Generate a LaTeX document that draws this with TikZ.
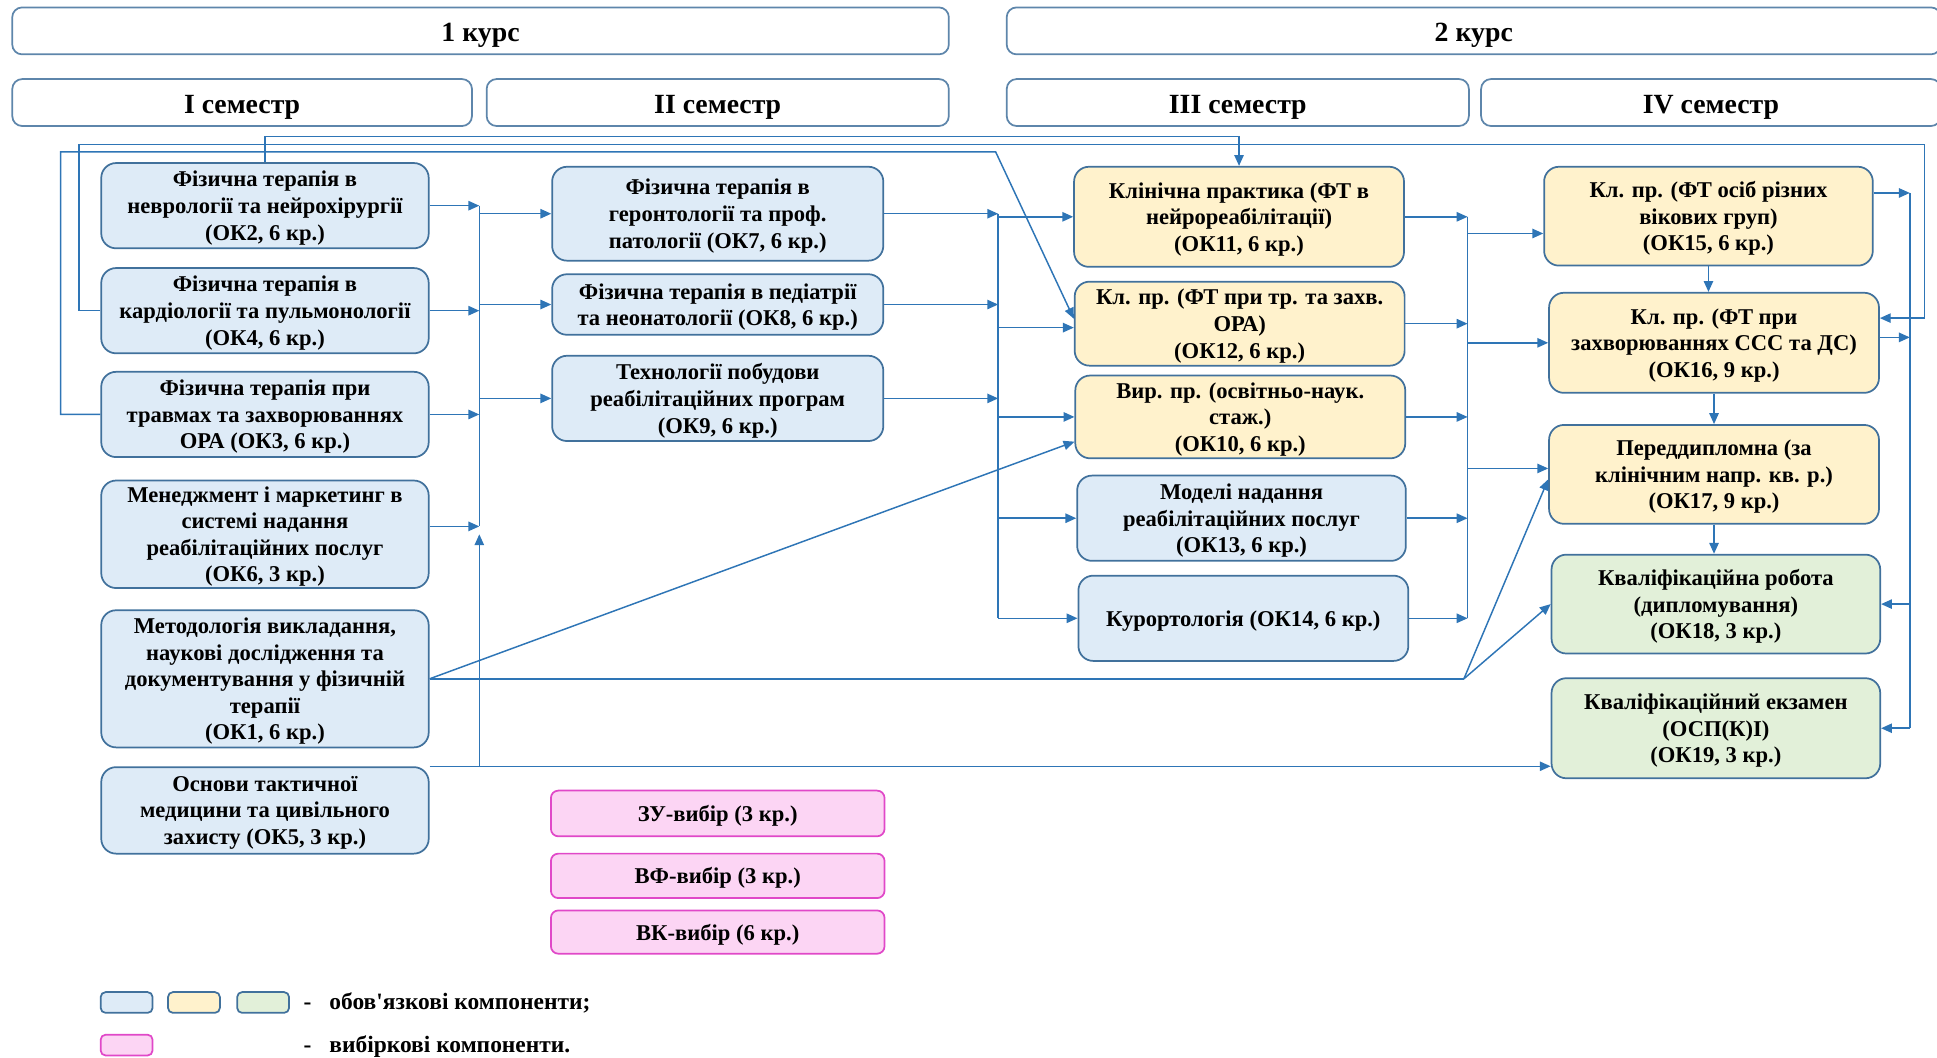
\documentclass[tikz,border=0pt]{standalone}
\usepackage{xcolor}
\usepackage{fontspec}
\setmainfont{Liberation Serif}
\usepackage{tikz}
\usetikzlibrary{shapes, arrows.meta, positioning}
\usetikzlibrary{calc}

\definecolor{lineblue}{HTML}{2E75B6}
\definecolor{boxedge}{HTML}{41719C}
\definecolor{fillblue}{HTML}{DEEBF7}
\definecolor{fillyellow}{HTML}{FFF2CC}
\definecolor{fillgreen}{HTML}{E2F0D9}
\definecolor{fillpink}{HTML}{FCD5F4}
\definecolor{edgepink}{HTML}{E048C8}

\begin{document}
\begin{tikzpicture}
  [
    x=0.025cm, y=-0.025cm,
    >={Triangle[length=2.2mm, width=1.9mm]},
    Box/.style={rectangle, rounded corners=3mm, draw=boxedge, line width=1pt, align=center, inner sep=1pt, text depth=0pt, font=\bfseries\fontsize{13}{15.3}\selectfont},
    Blue/.style={Box, fill=fillblue},
    Yellow/.style={Box, fill=fillyellow},
    Green/.style={Box, fill=fillgreen},
    Pink/.style={Box, fill=fillpink, draw=edgepink, rounded corners=1.5mm, minimum width=6.75cm},
    Head/.style={rectangle, rounded corners=2mm, draw=boxedge!85, fill=white, line width=1pt, minimum height=0.95cm, text height=14pt, text depth=1.4pt, font=\bfseries\fontsize{16}{18}\selectfont},
    Key/.style={rectangle, rounded corners=1mm, draw=boxedge, line width=1pt, minimum width=1.05cm, minimum height=0.42cm},
    Legend/.style={font=\bfseries\fontsize{13.5}{16}\selectfont, inner sep=1pt},
    Line/.style={draw=lineblue, line width=0.85pt}
  ]
  \useasboundingbox (0,0) rectangle (1568,856);
  \clip (0,0) rectangle (1568,856);

  % Headers
  \node[Head, minimum width=18.95cm] (kurs1) at (389, 25) {1 курс};
  \node[Head, minimum width=18.9cm] (kurs2) at (1193, 25) {2 курс};
  \node[Head, minimum width=9.3cm] (sem1) at (196, 83) {I семестр};
  \node[Head, minimum width=9.35cm] (sem2) at (581, 83) {II семестр};
  \node[Head, minimum width=9.35cm] (sem3) at (1002, 83) {III семестр};
  \node[Head, minimum width=9.3cm] (sem4) at (1385, 83) {IV семестр};

  % Nodes
  \node[Blue, minimum width=6.625cm, minimum height=1.725cm] (ok2) at (214.5, 166.5) {Фізична терапія в\\неврології та нейрохірургії\\(ОК2, 6 кр.)};
  \node[Blue, minimum width=6.625cm, minimum height=1.725cm] (ok4) at (214.5, 251.5) {Фізична терапія в\\кардіології та пульмонології\\(ОК4, 6 кр.)};
  \node[Blue, minimum width=6.625cm, minimum height=1.725cm] (ok3) at (214.5, 335.5) {Фізична терапія при\\травмах та захворюваннях\\ОРА (ОК3, 6 кр.)};
  \node[Blue, minimum width=6.625cm, minimum height=2.175cm] (ok6) at (214.5, 432.5) {Менеджмент і маркетинг в\\системі надання\\реабілітаційних послуг\\(ОК6, 3 кр.)};
  \node[Blue, minimum width=6.625cm, minimum height=2.775cm] (ok1) at (214.5, 549.5) {Методологія викладання,\\наукові дослідження та\\документування у фізичній\\терапії\\(ОК1, 6 кр.)};
  \node[Blue, minimum width=6.625cm, minimum height=1.75cm] (ok5) at (214.5, 656) {Основи тактичної\\медицини та цивільного\\захисту (ОК5, 3 кр.)};

  \node[Blue, minimum width=6.7cm, minimum height=1.9cm] (ok7) at (581, 173) {Фізична терапія в\\геронтології та проф.\\патології (ОК7, 6 кр.)};
  \node[Blue, minimum width=6.7cm, minimum height=1.225cm] (ok8) at (581, 246.5) {Фізична терапія в педіатрії\\та неонатології (ОК8, 6 кр.)};
  \node[Blue, minimum width=6.7cm, minimum height=1.725cm] (ok9) at (581, 322.5) {Технології побудови\\реабілітаційних програм\\(ОК9, 6 кр.)};

  \node[Pink, minimum height=0.925cm] (zu) at (581, 658.5) {ЗУ-вибір (3 кр.)};
  \node[Pink, minimum height=0.9cm] (vf) at (581, 709) {ВФ-вибір (3 кр.)};
  \node[Pink, minimum height=0.875cm] (vk) at (581, 754.5) {ВК-вибір (6 кр.)};

  \node[Yellow, minimum width=6.675cm, minimum height=2.025cm] (ok11) at (1003, 175.5) {Клінічна практика (ФТ в\\нейрореабілітації)\\(ОК11, 6 кр.)};
  \node[Yellow, minimum width=6.675cm, minimum height=1.7cm] (ok12) at (1003.5, 262) {Кл. пр. (ФТ при тр. та захв.\\ОРА)\\(ОК12, 6 кр.)};
  \node[Yellow, minimum width=6.675cm, minimum height=1.675cm] (ok10) at (1004, 337.5) {Вир. пр. (освітньо-наук.\\стаж.)\\(ОК10, 6 кр.)};
  \node[Blue, minimum width=6.65cm, minimum height=1.725cm] (ok13) at (1005, 419.5) {Моделі надання\\реабілітаційних послуг\\(ОК13, 6 кр.)};
  \node[Blue, minimum width=6.675cm, minimum height=1.725cm] (ok14) at (1006.5, 500.5) {Курортологія (ОК14, 6 кр.)};

  \node[Yellow, minimum width=6.65cm, minimum height=2cm] (ok15) at (1383, 175) {Кл. пр. (ФТ осіб різних\\вікових груп)\\(ОК15, 6 кр.)};
  \node[Yellow, minimum width=6.675cm, minimum height=2.025cm] (ok16) at (1387.5, 277.5) {Кл. пр. (ФТ при\\захворюваннях ССС та ДС)\\(ОК16, 9 кр.)};
  \node[Yellow, minimum width=6.675cm, minimum height=2cm] (ok17) at (1387.5, 384) {Переддипломна (за\\клінічним напр. кв. р.)\\(ОК17, 9 кр.)};
  \node[Green, minimum width=6.65cm, minimum height=2cm] (ok18) at (1389, 489) {Кваліфікаційна робота\\(дипломування)\\(ОК18, 3 кр.)};
  \node[Green, minimum width=6.65cm, minimum height=2.025cm] (ok19) at (1389, 589.5) {Кваліфікаційний екзамен\\(ОСП(К)І)\\(ОК19, 3 кр.)};

  % Legend
  \node[Key, fill=fillblue] (key1) at (102.5, 811.5) {};
  \node[Key, fill=fillyellow] (key2) at (157, 811.5) {};
  \node[Key, fill=fillgreen] (key3) at (213, 811.5) {};
  \node[Key, fill=fillpink, draw=edgepink] (key4) at (102.5, 846) {};
  \node[Legend, anchor=base] (dash1) at (249, 817) {-};
  \node[Legend, anchor=base west] (txt1) at (265, 817) {обов\textquotesingle язкові компоненти;};
  \node[Legend, anchor=base] (dash2) at (249, 852) {-};
  \node[Legend, anchor=base west] (txt2) at (265, 852) {вибіркові компоненти.};

  % Buses and bends
  \coordinate (bA) at (388, 0);
  \coordinate (bB) at (808, 0);
  \coordinate (bC) at (1188, 0);
  \coordinate (bD) at (1546, 0);
  \coordinate (j1) at (1185, 549.5);
  \coordinate (ok6o) at ([yshift=0.16cm]ok6.east);
  \coordinate (ok12i) at ([yshift=-0.08cm]ok12.west);
  \coordinate (ok12d) at ([yshift=0.1cm]ok12.west);
  \coordinate (ok10d) at ([yshift=-0.5cm]ok10.west);
  \coordinate (ok15i) at ([yshift=-0.35cm]ok15.west);
  \coordinate (ok17i) at ([yshift=0.12cm]ok17.west);
  \coordinate (ok17d) at ([yshift=-0.1cm]ok17.west);
  \coordinate (ok15o) at ([yshift=0.47cm]ok15.east);
  \coordinate (ok16o) at ([yshift=0.11cm]ok16.east);
  \coordinate (ok16r) at ([yshift=0.5cm]ok16.east);

  % Lines
  \path [->, Line] (ok2.east) -- (ok2.east -| bA);
  \path [->, Line] (ok4.east) -- (ok4.east -| bA);
  \path [->, Line] (ok3.east) -- (ok3.east -| bA);
  \path [->, Line] (ok6o) -- (ok6o -| bA);
  \path [Line] (ok2.east -| bA) -- (ok6o -| bA);
  \path [->, Line] (ok5.north east -| bA) -- (ok6.east -| bA);
  \path [->, Line] (bA |- ok7.west) -- (ok7.west);
  \path [->, Line] (bA |- ok8.west) -- (ok8.west);
  \path [->, Line] (bA |- ok9.west) -- (ok9.west);

  \path [->, Line] (ok7.east) -- (ok7.east -| bB);
  \path [->, Line] (ok8.east) -- (ok8.east -| bB);
  \path [->, Line] (ok9.east) -- (ok9.east -| bB);
  \path [Line] (ok7.east -| bB) -- (ok14.west -| bB);
  \path [->, Line] (bB |- ok11.west) -- (ok11.west);
  \path [->, Line] (bB |- ok12i) -- (ok12i);
  \path [->, Line] (bB |- ok10.west) -- (ok10.west);
  \path [->, Line] (bB |- ok13.west) -- (ok13.west);
  \path [->, Line] (bB |- ok14.west) -- (ok14.west);

  \path [->, Line] (ok11.east) -- (ok11.east -| bC);
  \path [->, Line] (ok12.east) -- (ok12.east -| bC);
  \path [->, Line] (ok10.east) -- (ok10.east -| bC);
  \path [->, Line] (ok13.east) -- (ok13.east -| bC);
  \path [->, Line] (ok14.east) -- (ok14.east -| bC);
  \path [Line] (ok11.east -| bC) -- (ok14.east -| bC);
  \path [->, Line] (bC |- ok15i) -- (ok15i);
  \path [->, Line] (bC |- ok16.west) -- (ok16.west);
  \path [->, Line] (bC |- ok17i) -- (ok17i);

  \path [->, Line] (ok15.south) -- (ok15.south |- ok16.north);
  \path [->, Line] (ok16.south) -- (ok16.south |- ok17.north);
  \path [->, Line] (ok17.south) -- (ok17.south |- ok18.north);
  \path [->, Line] (ok15o) -- (ok15o -| bD);
  \path [->, Line] (ok16o) -- (ok16o -| bD);
  \path [Line] (ok15o -| bD) -- (bD |- ok19.east);
  \path [->, Line] (bD |- ok18.east) -- (ok18.east);
  \path [->, Line] (bD |- ok19.east) -- (ok19.east);

  \path [->, Line] (ok2.north) |- ($(ok11.north)+(0,-24)$) -- (ok11.north);
  \path [->, Line] (ok4.west) -| (64, 117) -- (1558, 117) |- (ok16r);
  \path [->, Line] (ok3.west) -| (49, 123) -- (806, 123) -- (ok12d);
  \path [->, Line] (ok1.east) -- (ok10d);
  \path [Line] (ok1.east) -- (j1);
  \path [->, Line] (j1) -- (ok17d);
  \path [->, Line] (j1) -- (ok18.west);
  \path [->, Line] (ok5.north east) -- (ok5.north east -| ok19.west);

\end{tikzpicture}
\end{document}
